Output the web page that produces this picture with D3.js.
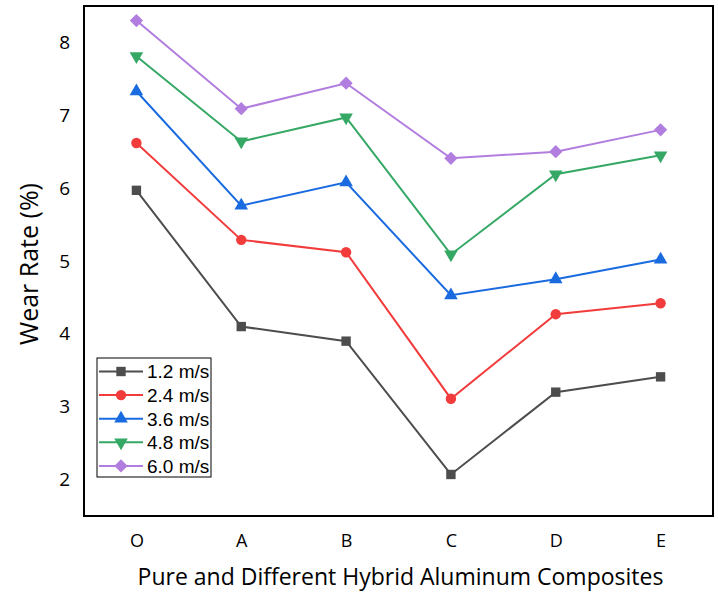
<!DOCTYPE html>
<html>
<head>
<meta charset="utf-8">
<script src="https://cdn.jsdelivr.net/npm/d3@7"></script>
<style>
  html, body { margin: 0; padding: 0; background: #fff; }
  svg { display: block; }
</style>
</head>
<body>
<svg id="chart" width="718" height="602"></svg>
<script>
const categories = ["O", "A", "B", "C", "D", "E"];
const seriesNames = ["1.2 m/s", "2.4 m/s", "3.6 m/s", "4.8 m/s", "6.0 m/s"];
const speed12 = [5.97, 4.10, 3.90, 2.07, 3.20, 3.41];
const speed24 = [6.62, 5.29, 5.12, 3.11, 4.27, 4.42];
const speed36 = [7.33, 5.76, 6.08, 4.53, 4.75, 5.02];
const speed48 = [7.81, 6.64, 6.97, 5.09, 6.19, 6.45];
const speed60 = [8.30, 7.09, 7.44, 6.41, 6.50, 6.80];
const yTicks = [2, 3, 4, 5, 6, 7, 8];
const xTitle = "Pure and Different Hybrid Aluminum Composites";
const yTitle = "Wear Rate (%)";

const seriesValues = [speed12, speed24, speed36, speed48, speed60];
const colors = ["#4d4d4d", "#f23c3c", "#1a6be0", "#36a865", "#b17ddf"];
const symbols = ["square", "circle", "triUp", "triDown", "diamond"];

const svg = d3.select("#chart");
const L = 84, T = 6, R = 713, B = 516;

const x = d3.scalePoint().domain(categories).range([L, R]).padding(0.5);
const y = d3.scaleLinear().domain([1.5, 8.5]).range([B, T]);

function symPath(sym) {
  switch (sym) {
    case "square": return d3.symbol(d3.symbolSquare, 88)();
    case "circle": return d3.symbol(d3.symbolCircle, 85)();
    case "triUp": return d3.symbol(d3.symbolTriangle, 80)();
    case "triDown": return d3.symbol(d3.symbolTriangle, 80)();
    case "diamond": return d3.symbol(d3.symbolSquare, 88)();
  }
}
function symRot(sym) {
  if (sym === "triDown") return " rotate(180)";
  if (sym === "diamond") return " rotate(45)";
  return "";
}

// axes (labels only)
const yAxis = d3.axisLeft(y).tickValues(yTicks).tickSize(0).tickPadding(14).tickFormat(d3.format("d"));
const gy = svg.append("g").attr("transform", `translate(${L},0)`).call(yAxis);
gy.select(".domain").remove();
gy.selectAll("text").attr("font-family", "Open Sans").attr("font-size", 19).attr("fill", "#000");

const xAxis = d3.axisBottom(x).tickSize(0).tickPadding(18);
const gx = svg.append("g").attr("transform", `translate(0,${B})`).call(xAxis);
gx.select(".domain").remove();
gx.selectAll("text").attr("font-family", "Open Sans").attr("font-size", 18).attr("fill", "#000");

// lines + markers
const line = d3.line().x((d, i) => x(categories[i])).y(d => y(d));
seriesValues.forEach((vals, s) => {
  svg.append("path").datum(vals).attr("d", line)
    .attr("fill", "none").attr("stroke", colors[s]).attr("stroke-width", 2);
  svg.selectAll(null).data(vals).enter().append("path")
    .attr("d", symPath(symbols[s]))
    .attr("transform", (d, i) => `translate(${x(categories[i])},${y(d)})` + symRot(symbols[s]))
    .attr("fill", colors[s]);
});

// frame
svg.append("rect").attr("x", L).attr("y", T).attr("width", R - L).attr("height", B - T)
  .attr("fill", "none").attr("stroke", "#000").attr("stroke-width", 2);

// legend
const lg = svg.append("g");
lg.append("rect").attr("x", 97).attr("y", 358).attr("width", 114).attr("height", 119)
  .attr("fill", "#fff").attr("stroke", "#000").attr("stroke-width", 1);
seriesNames.forEach((name, s) => {
  const cy = 371.5 + s * 23.6;
  lg.append("line").attr("x1", 99).attr("x2", 143).attr("y1", cy).attr("y2", cy)
    .attr("stroke", colors[s]).attr("stroke-width", 2);
  lg.append("path").attr("d", symPath(symbols[s]))
    .attr("transform", `translate(121,${cy})` + symRot(symbols[s]))
    .attr("fill", colors[s]);
  lg.append("text").attr("x", 147).attr("y", cy).attr("dy", "0.36em")
    .attr("font-family", "Liberation Sans, Arial").attr("font-size", 19).attr("fill", "#000")
    .text(name);
});

// titles
svg.append("text").attr("x", (L + R) / 2 + 2).attr("y", 585)
  .attr("text-anchor", "middle").attr("font-family", "Open Sans").attr("font-size", 23)
  .attr("fill", "#000").text(xTitle);
svg.append("text").attr("transform", `translate(38,${(T + B) / 2 + 3}) rotate(-90)`)
  .attr("text-anchor", "middle").attr("font-family", "Open Sans").attr("font-size", 25)
  .attr("fill", "#000").text(yTitle);
</script>
</body>
</html>
